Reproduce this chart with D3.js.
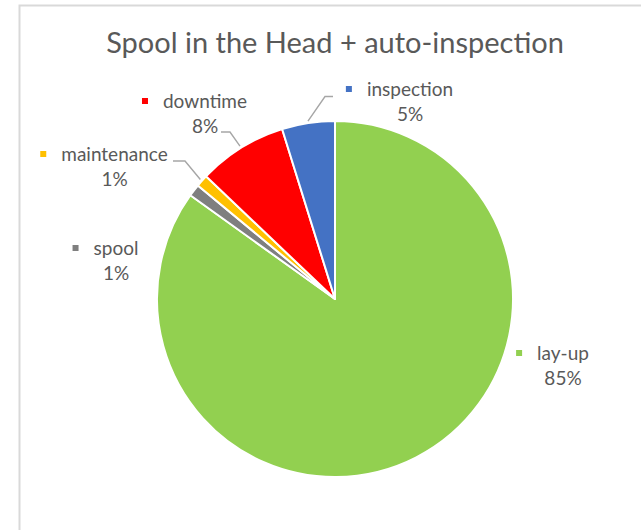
<!DOCTYPE html>
<html>
<head>
<meta charset="utf-8">
<script src="https://cdn.jsdelivr.net/npm/d3@7/dist/d3.min.js"></script>
<style>
  html, body { margin: 0; padding: 0; background: #ffffff; }
  svg { display: block; }
  text { font-family: "Lato", "Open Sans", sans-serif; fill: #595959; }
</style>
</head>
<body>
<script>
// ---- data ----
const title = "Spool in the Head + auto-inspection";
const categories = ["lay-up", "spool", "maintenance", "downtime", "inspection"];
const values = [84.9, 1.1, 1.1, 8.1, 4.8];
const percentLabels = ["85%", "1%", "1%", "8%", "5%"];
const colors = ["#92d050", "#7f7f7f", "#ffc000", "#ff0000", "#4472c4"];

// ---- layout (label anchors: centre x of name, baseline y of name) ----
const labelLayout = [
  { cx: 563, y: 360, leader: null },
  { cx: 116, y: 255, leader: null },
  { cx: 114.5, y: 161, leader: { x1: 173, y1: 161, xe: 185 } },
  { cx: 205, y: 108, leader: { x1: 221, y1: 132, xe: 230 } },
  { cx: 410, y: 96, leader: { x1: 333, y1: 96.5, xe: 325 } }
];

const W = 641, H = 530;
const cx = 335, cy = 299, R = 178;

const svg = d3.select("body").append("svg").attr("width", W).attr("height", H);

// chart frame
svg.append("path")
  .attr("d", `M19.5,${H} L19.5,5.5 L${W},5.5`)
  .attr("fill", "none").attr("stroke", "#d9d9d9").attr("stroke-width", 2);

// title
svg.append("text")
  .attr("x", cx).attr("y", 53)
  .attr("text-anchor", "middle")
  .attr("font-size", 29)
  .text(title);

const data = categories.map((c, i) => ({ name: c, value: values[i], pct: percentLabels[i], color: colors[i], layout: labelLayout[i] }));

const pie = d3.pie().sort(null).value(d => d.value);
const arcs = pie(data);
const arc = d3.arc().innerRadius(0).outerRadius(R);

const g = svg.append("g").attr("transform", `translate(${cx},${cy})`);
g.selectAll("path.slice").data(arcs).enter().append("path")
  .attr("class", "slice")
  .attr("d", arc)
  .attr("fill", d => d.data.color)
  .attr("stroke", "#ffffff")
  .attr("stroke-width", 2)
  .attr("stroke-linejoin", "round");

// leader lines
arcs.forEach(a => {
  const L = a.data.layout.leader;
  if (!L) return;
  const mid = (a.startAngle + a.endAngle) / 2;
  const rr = R + 2;
  const px = cx + Math.sin(mid) * rr;
  const py = cy - Math.cos(mid) * rr;
  svg.append("path")
    .attr("d", `M${L.x1},${L.y1} L${L.xe},${L.y1} L${px},${py}`)
    .attr("fill", "none")
    .attr("stroke", "#a6a6a6")
    .attr("stroke-width", 1.4);
});

// labels
const fs = 19;
arcs.forEach(a => {
  const d = a.data;
  const lay = d.layout;
  const t = svg.append("text")
    .attr("x", lay.cx).attr("y", lay.y)
    .attr("text-anchor", "middle")
    .attr("font-size", fs)
    .text(d.name);
  const w = t.node().getComputedTextLength();
  svg.append("rect")
    .attr("x", lay.cx - w / 2 - 21).attr("y", lay.y - 10)
    .attr("width", 6).attr("height", 6)
    .attr("fill", d.color);
  svg.append("text")
    .attr("x", lay.cx).attr("y", lay.y + 25)
    .attr("text-anchor", "middle")
    .attr("font-size", fs)
    .text(d.pct);
});
</script>
</body>
</html>
